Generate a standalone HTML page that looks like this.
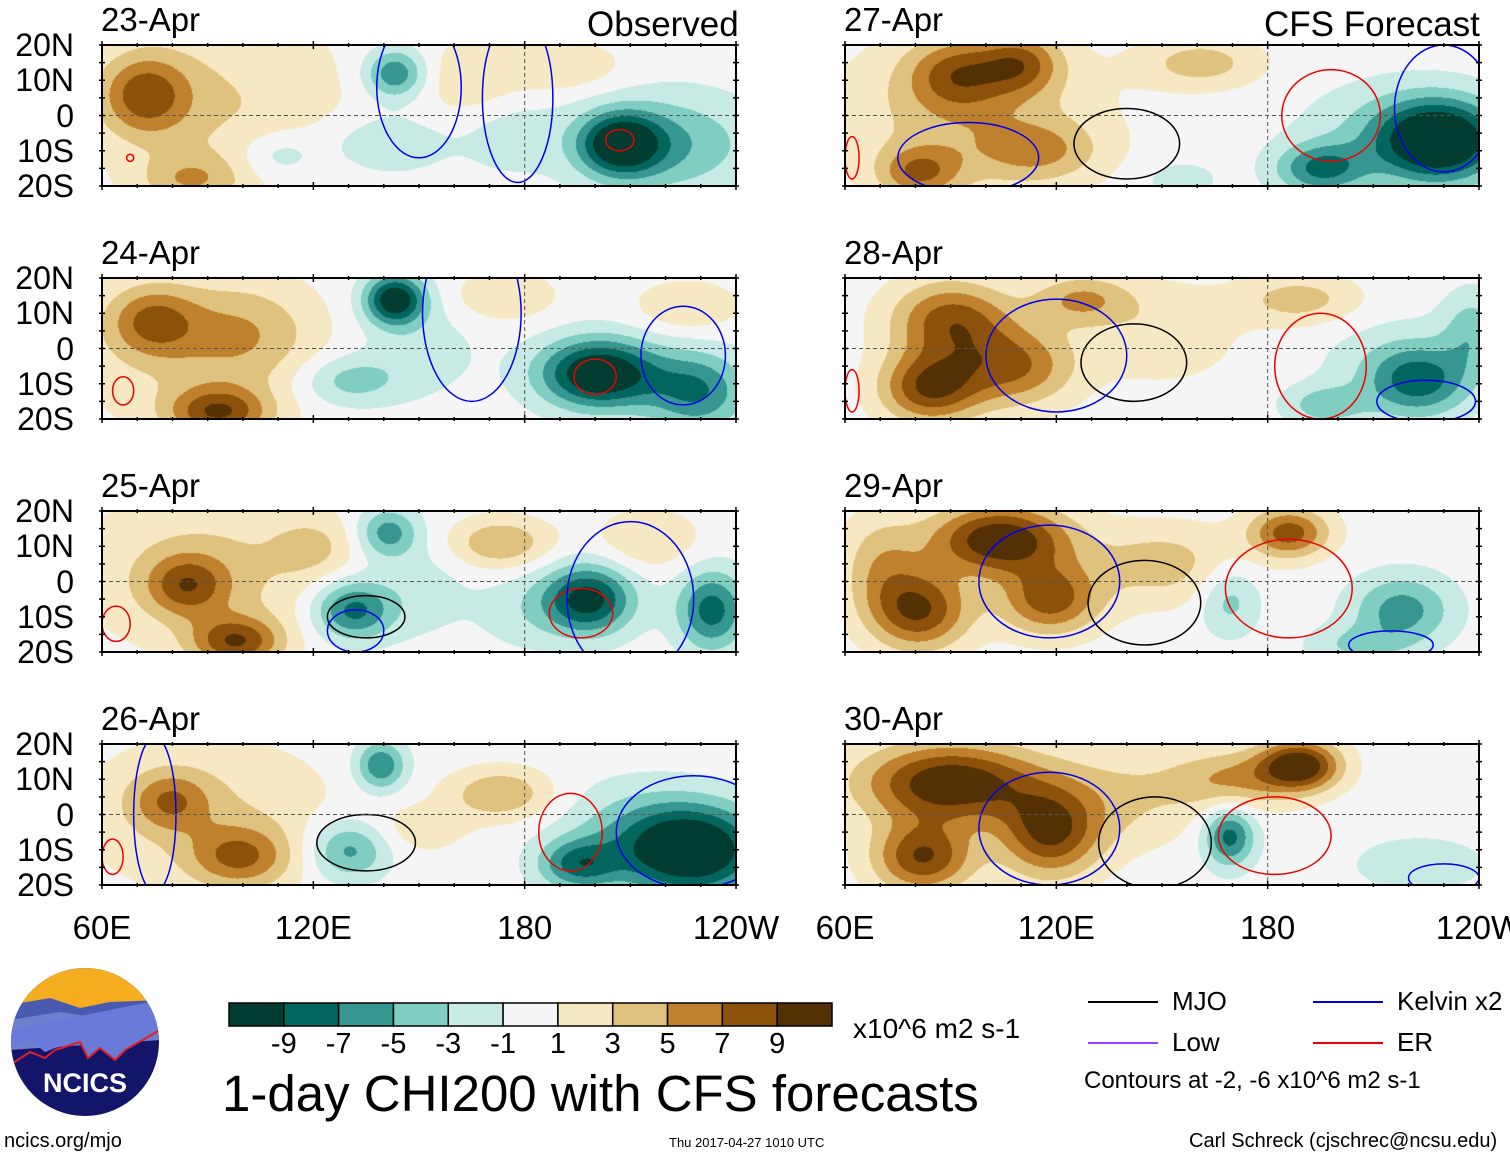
<!DOCTYPE html>
<html><head><meta charset="utf-8">
<style>
body{margin:0;background:#fff;font-family:"Liberation Sans",sans-serif;}
#root{position:relative;width:1510px;height:1158px;overflow:hidden;background:#fff;}
.t{position:absolute;color:#000;white-space:nowrap;line-height:1;}
canvas{position:absolute;}
</style></head>
<body>
<div id="root">
<svg id="ov" width="1510" height="1158" style="position:absolute;left:0;top:0;z-index:2"></svg>
<div class="t" style="left:4px;top:1131px;font-size:20px">ncics.org/mjo</div>
<div class="t" style="left:669px;top:1136px;font-size:13px">Thu 2017-04-27 1010 UTC</div>
<div class="t" style="left:1189px;top:1131px;font-size:20px">Carl Schreck (cjschrec@ncsu.edu)</div>
<div class="t" style="left:222px;top:1068px;font-size:51px">1-day CHI200 with CFS forecasts</div>
<div class="t" style="left:853px;top:1015px;font-size:28px">x10^6 m2 s-1</div>
<div class="t" style="left:1084px;top:1069px;font-size:24px">Contours at -2, -6 x10^6 m2 s-1</div>
<div class="t" style="left:587px;top:7px;font-size:35px">Observed</div>
<div class="t" style="left:1264px;top:7px;font-size:35px">CFS Forecast</div>
</div>
<script>
// ---- data ----
const levels = [-9,-7,-5,-3,-1,1,3,5,7,9];
const palette = ["#003c30","#01665e","#35978f","#80cdc1","#c7eae5","#f5f5f5","#f6e8c3","#dfc27d","#bf812d","#8c510a","#543005"];
const dates = ["23-Apr","24-Apr","25-Apr","26-Apr","27-Apr","28-Apr","29-Apr","30-Apr"];
const latTicks = ["20N","10N","0","10S","20S"];
const lonTicks = ["60E","120E","180","120W"];
// blobs: [lon, lat, amplitude, sigmaLon, sigmaLat]
const blobs0 = [[72,6,7,9,8],[85,-18,4,10,5],[95,3,3,25,18],[143,12,-7,6,5],[207,-8,-10,8,6],[220,-8,-5,18,10],[110,-11,-3,8,5],[190,14,3,12,5],[165,10,2.5,10,8],[140,-8,-3,12,6],[175,-5,-2,10,8]];
const blobs1 = [[74,8,6,9,7],[93,-18,8,10,5],[100,5,3.5,14,10],[143,14,-11,6,5],[130,-9,-4,10,5],[201,-7,-12,12,7],[229,-12,-7,10,8],[174,15,3,10,5],[226,12,3,10,5],[85,-2,2.5,25,15],[150,0,-2,12,10]];
const blobs2 = [[84,-1,6,8,6],[98,-17,8,9,5],[90,3,3.5,25,15],[141,14,-6,6,5],[131,-8,-8,8,6],[173,11,5,10,5],[215,12,3,10,6],[198,-5,-10,9,7],[233,-8,-8,7,8],[120,10,2.5,8,6],[180,-8,-2,10,8],[150,-2,-2,10,10]];
const blobs3 = [[79,4,5,8,6],[99,-12,6,10,6],[90,0,3,25,15],[139,14,-7,5,5],[130,-10,-6,8,6],[173,6,5,10,5],[228,-10,-12,14,9],[195,-14,-7,8,5],[150,-4,2,10,5],[210,-5,-3,15,10]];
const blobs4 = [[92,12,6,10,7],[110,15,6,8,6],[81,-16,6,8,5],[115,-10,4,12,6],[161,15,4,12,5],[229,-7,-12,12,8],[195,-15,-7,9,5],[155,-18,-2,8,4],[95,0,4,25,15],[215,-5,-3,18,10]];
const blobs5 = [[90,8,8,12,8],[84,-11,9,10,7],[108,-5,7,12,8],[127,14,5,10,5],[189,14,4,12,5],[223,-9,-7,10,7],[196,-16,-4,8,4],[238,5,-4,6,8],[150,5,2.5,15,10],[215,-5,-2,15,10]];
const blobs6 = [[104,12,11,14,7],[81,-8,9,10,8],[118,-5,8,10,7],[186,14,8,8,5],[150,5,4,15,8],[169,-5,-4,6,7],[218,-8,-6,10,7],[205,-18,-3,10,4],[70,5,4,8,10]];
const blobs7 = [[90,9,11,18,8],[82,-12,9,10,7],[118,-5,9,10,9],[189,14,11,8,5],[170,10,5,12,6],[169,-6,-8,5,6],[223,-14,-3,12,5],[140,5,3,15,10]];
const allBlobs = [blobs0,blobs1,blobs2,blobs3,blobs4,blobs5,blobs6,blobs7];
// contours (ellipses): [lon, lat, radiusLon, radiusLat, kind]
const contours = [
 [[207,-7,4,3,"er"],[68,-12,1,1,"er"],[150,8,12,20,"kelvin"],[178,5,10,24,"kelvin"]],
 [[200,-8,6,5,"er"],[66,-12,3,4,"er"],[165,10,14,25,"kelvin"],[225,-2,12,14,"kelvin"]],
 [[196,-9,9,7,"er"],[64,-12,4,5,"er"],[135,-10,11,6,"mjo"],[210,-5,18,22,"kelvin"],[132,-14,8,6,"kelvin"]],
 [[193,-5,9,11,"er"],[63,-12,3,5,"er"],[135,-8,14,8,"mjo"],[228,-5,22,16,"kelvin"],[75,0,6,22,"kelvin"]],
 [[140,-8,15,10,"mjo"],[198,0,14,13,"er"],[62,-12,2,6,"er"],[230,2,14,18,"kelvin"],[95,-12,20,10,"kelvin"]],
 [[142,-4,15,11,"mjo"],[195,-5,13,15,"er"],[62,-12,2,6,"er"],[120,-2,20,16,"kelvin"],[225,-15,14,6,"kelvin"]],
 [[145,-6,16,12,"mjo"],[186,-2,18,14,"er"],[118,0,20,16,"kelvin"],[215,-18,12,4,"kelvin"]],
 [[148,-8,16,13,"mjo"],[182,-6,16,11,"er"],[118,-4,20,16,"kelvin"],[230,-18,10,4,"kelvin"]]
];
// ---- layout ----
const root=document.getElementById('root');
const ov=document.getElementById('ov');
const NS="http://www.w3.org/2000/svg";
const panelX=[102,845], panelY=[45,278,511,744], W=634, H=141;
function xOf(lon,x0){return x0+(lon-60)/180*W;}
function yOf(lat,y0){return y0+(20-lat)/40*H;}
function hex(c){return [parseInt(c.slice(1,3),16),parseInt(c.slice(3,5),16),parseInt(c.slice(5,7),16)];}
const palRGB=palette.map(hex);
function idxFor(v){let i=0;while(i<levels.length&&v>=levels[i])i++;return i;}
function mk(tag,attrs){const e=document.createElementNS(NS,tag);for(const k in attrs)e.setAttribute(k,attrs[k]);ov.appendChild(e);return e;}
const kindColor={mjo:"#000",kelvin:"#0000ee",er:"#ee0000",low:"#a040ff"};
for(let p=0;p<8;p++){
  const col=p<4?0:1,row=p%4;
  const x0=panelX[col],y0=panelY[row];
  const cv=document.createElement('canvas');
  cv.width=W;cv.height=H;cv.style.left=x0+'px';cv.style.top=y0+'px';
  
  
  root.appendChild(cv);
  const ctx=cv.getContext('2d');const img=ctx.createImageData(W,H);
  const bl=allBlobs[p];
  for(let py=0;py<H;py++){const lat=20-py/H*40;
    for(let px=0;px<W;px++){const lon=60+px/W*180;let v=0;
      for(const b of bl){const dx=(lon-b[0])/b[3],dy=(lat-b[1])/b[4];v+=b[2]*Math.exp(-(dx*dx+dy*dy)/2);}
      const c=palRGB[idxFor(v)];const k=(py*W+px)*4;
      img.data[k]=c[0];img.data[k+1]=c[1];img.data[k+2]=c[2];img.data[k+3]=255;}}
  ctx.putImageData(img,0,0);
  const cp=document.createElementNS(NS,'clipPath');cp.setAttribute('id','clip'+p);
  const cr=document.createElementNS(NS,'rect');cr.setAttribute('x',x0);cr.setAttribute('y',y0);cr.setAttribute('width',W);cr.setAttribute('height',H);
  cp.appendChild(cr);ov.appendChild(cp);
  for(const c of contours[p]){
    const e=mk('ellipse',{cx:xOf(c[0],x0),cy:yOf(c[1],y0),rx:c[2]*W/180,ry:c[3]*H/40,fill:'none',stroke:kindColor[c[4]],'stroke-width':1.5,'clip-path':'url(#clip'+p+')'});
    
    
  }
  const eq=mk('line',{x1:x0,x2:x0+W,y1:yOf(0,y0),y2:yOf(0,y0),stroke:'#555','stroke-width':1,'stroke-dasharray':'4,3'});
  
  
  const dl=mk('line',{x1:xOf(180,x0),x2:xOf(180,x0),y1:y0,y2:y0+H,stroke:'#555','stroke-width':1,'stroke-dasharray':'4,3'});
  
  
  const fr=mk('rect',{x:x0,y:y0,width:W,height:H,fill:'none',stroke:'#000','stroke-width':2});
  
  
  for(let lon=60;lon<=240;lon+=10){const x=xOf(lon,x0);const len=(lon%60==0)?8:4;
    mk('line',{x1:x,x2:x,y1:y0-len/2,y2:y0+len/2,stroke:'#000','stroke-width':1.5});
    mk('line',{x1:x,x2:x,y1:y0+H-len/2,y2:y0+H+len/2,stroke:'#000','stroke-width':1.5});}
  for(let lat=-20;lat<=20;lat+=5){const y=yOf(lat,y0);
    mk('line',{x1:x0-3,x2:x0+3,y1:y,y2:y,stroke:'#000','stroke-width':1.5});
    mk('line',{x1:x0+W-3,x2:x0+W+3,y1:y,y2:y,stroke:'#000','stroke-width':1.5});}
  const dt=document.createElement('div');dt.className='t';dt.textContent=dates[p];
  dt.style.cssText='left:'+(x0-1)+'px;top:'+(y0-42)+'px;font-size:33px';
  
  
  root.appendChild(dt);
  if(col==0){latTicks.forEach((s,i)=>{const d=document.createElement('div');d.className='t';d.textContent=s;
    d.style.cssText='right:'+(1510-74)+'px;top:'+(yOf(20-i*10,y0)-16)+'px;font-size:32px;text-align:right';
    
    
    root.appendChild(d);});}
  if(row==3){lonTicks.forEach((s,i)=>{const d=document.createElement('div');d.className='t';d.textContent=s;
    const x=xOf(60+i*60,x0);d.style.cssText='left:'+(x-60)+'px;width:120px;text-align:center;top:'+(y0+H+26)+'px;font-size:33px';
    
    
    root.appendChild(d);});}
}
// colorbar
const cbX=229,cbY=1003,cbW=603/11;
palette.forEach((c,i)=>{const r=mk('rect',{x:cbX+i*cbW,y:cbY,width:cbW,height:23,fill:c,stroke:'#000','stroke-width':1.5});
  
  });
levels.forEach((l,i)=>{const d=document.createElement('div');d.className='t';d.textContent=l;
  d.style.cssText='left:'+(cbX+(i+1)*cbW-30)+'px;width:60px;text-align:center;top:1030px;font-size:29px';
  
  
  root.appendChild(d);});
// legend
const legend=[["MJO","#000",1088,1002],["Kelvin x2","#0000ee",1313,1002],["Low","#a040ff",1088,1043],["ER","#ee0000",1313,1043]];
legend.forEach(l=>{const ln=mk('line',{x1:l[2],x2:l[2]+70,y1:l[3],y2:l[3],stroke:l[1],'stroke-width':2});
  
  
  const d=document.createElement('div');d.className='t';d.textContent=l[0];
  d.style.cssText='left:'+(l[2]+84)+'px;top:'+(l[3]-14)+'px;font-size:26px';
  
  
  root.appendChild(d);});
// logo
ov.insertAdjacentHTML('beforeend',`
<g>
<clipPath id="lc"><circle cx="85" cy="1042" r="74"/></clipPath>
<g clip-path="url(#lc)">
<rect x="10" y="966" width="150" height="152" fill="#13156a"/>
<rect x="10" y="966" width="150" height="45" fill="#f5ac1e"/>
<path d="M10 1005 L50 998 L80 1008 L110 1002 L160 1000 L160 1035 L10 1040Z" fill="#4a5ab0"/>
<path d="M10 1020 L60 1012 L100 1018 L160 1010 L160 1040 L10 1050Z" fill="#6f7fd0"/>
<path d="M10 1045 L30 1040 L45 1052 L55 1048 L80 1042 L88 1058 L100 1048 L115 1060 L125 1050 L160 1030 L160 1000 L10 1030Z" fill="#6a7ad8"/>
<path d="M10 1065 L30 1052 L45 1058 L55 1050 L80 1042 L88 1058 L100 1048 L115 1060 L125 1050 L160 1030" fill="none" stroke="#e02020" stroke-width="2"/>
</g>
<text x="85" y="1092" font-family="Liberation Sans" font-weight="bold" font-size="27" fill="#fff" text-anchor="middle">NCICS</text>
</g>`);
</script>
</body></html>
